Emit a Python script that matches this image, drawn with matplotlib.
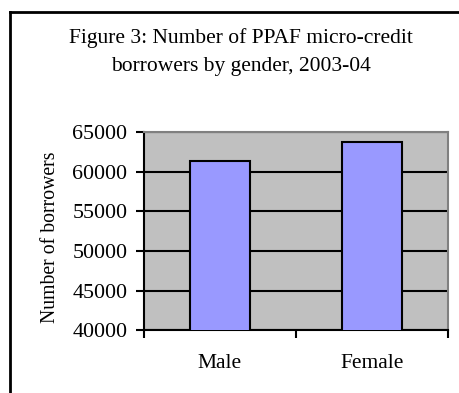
import matplotlib.pyplot as plt
from matplotlib.lines import Line2D

# === Data ===
genders = ["Male", "Female"]
borrowers = [61400, 63700]
y_ticks = [40000, 45000, 50000, 55000, 60000, 65000]

plt.rcParams['font.family'] = ['Liberation Serif', 'DejaVu Serif']

fig = plt.figure(figsize=(4.59, 3.93), dpi=100)
ax = fig.add_axes([0.3137, 0.160, 0.6623, 0.504])

# === Plot area like old Excel charts
ax.set_facecolor("#c0c0c0")
x = list(range(len(genders)))
ax.bar(x, borrowers, width=0.4, color="#9999ff", edgecolor="black", linewidth=1.5, zorder=3)

ax.set_xlim(-0.5, len(genders) - 0.5)
ax.set_ylim(40000, 65000)
ax.set_yticks(y_ticks)
ax.set_yticklabels([str(v) for v in y_ticks], fontsize=15.8)
ax.yaxis.grid(True, color="black", linewidth=1.5, zorder=1)
ax.set_axisbelow(True)

# ticks between categories on x
ax.set_xticks([-0.5, 0.5, 1.5])
ax.set_xticklabels([])
ax.set_xticks(x, minor=True)
ax.set_xticklabels(genders, minor=True, fontsize=15.5)
ax.tick_params(axis="x", which="minor", length=0, pad=17)
ax.tick_params(axis="x", which="major", length=6, width=1.5, direction="out")
ax.tick_params(axis="y", length=6, width=1.5, direction="out", pad=6)

ax.set_ylabel("Number of borrowers", fontsize=14.2)
ax.yaxis.set_label_coords(-0.277, 0.47)

for side in ["top", "right"]:
    ax.spines[side].set_color("#808080")
    ax.spines[side].set_linewidth(1.5)
for side in ["left", "bottom"]:
    ax.spines[side].set_color("black")
    ax.spines[side].set_linewidth(1.5)

fig.text(0.525, 1 - 38 / 393, "Figure 3: Number of PPAF micro-credit",
         ha="center", va="center", fontsize=15.5)
fig.text(0.525, 1 - 66 / 393, "borrowers by gender, 2003-04",
         ha="center", va="center", fontsize=15.5)

# === Outer frame (left and top only visible)
fig.add_artist(Line2D([10 / 459, 10 / 459], [0, 1 - 12 / 393], transform=fig.transFigure,
                      color="black", linewidth=2))
fig.add_artist(Line2D([10 / 459, 1], [1 - 12 / 393, 1 - 12 / 393], transform=fig.transFigure,
                      color="black", linewidth=2))

plt.savefig("out.png", dpi=100)
